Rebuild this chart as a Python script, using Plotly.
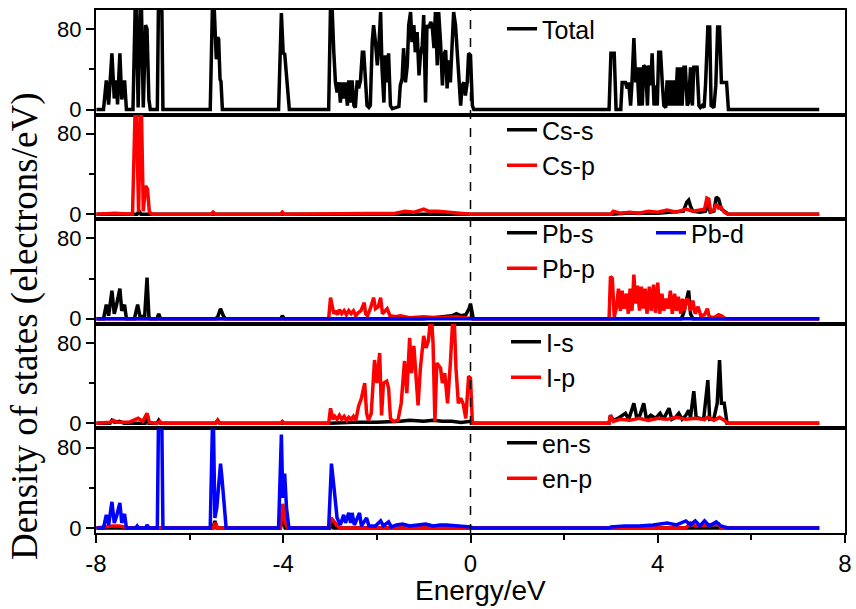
import plotly.graph_objects as go
from plotly.subplots import make_subplots

# ---------------- data: (energy eV, DOS electrons/eV) ----------------
TOTAL = [(-7.99, 0), (-7.84, 0), (-7.78, 29), (-7.73, 5), (-7.66, 56), (-7.61, 11), (-7.56, 29), (-7.54, 5),
         (-7.49, 56), (-7.45, 10), (-7.39, 29), (-7.35, 0), (-7.21, 0), (-7.15, 130), (-7.10, 2), (-7.04, 130),
         (-6.99, 2), (-6.94, 84), (-6.91, 80), (-6.87, 10), (-6.84, 0), (-6.69, 0), (-6.66, 130), (-6.60, 130),
         (-6.57, 0), (-5.56, 0), (-5.50, 130), (-5.45, 55), (-5.43, 50), (-5.40, 72), (-5.38, 70), (-5.35, 30),
         (-5.33, 28), (-5.30, 0), (-4.10, 0), (-4.04, 96), (-4.00, 55), (-3.97, 56), (-3.93, 29), (-3.87, 0),
         (-3.03, 0), (-2.98, 130), (-2.92, 57), (-2.885, 27), (-2.85, 17), (-2.81, 27), (-2.78, 7), (-2.74, 27),
         (-2.71, 11), (-2.67, 27), (-2.63, 4), (-2.60, 29), (-2.56, 7), (-2.53, 29), (-2.49, 4), (-2.46, 2),
         (-2.42, 29), (-2.39, 21), (-2.35, 29), (-2.31, 57), (-2.28, 57), (-2.24, 24), (-2.21, 4), (-2.17, 2),
         (-2.14, 4), (-2.10, 67), (-2.07, 84), (-2.03, 67), (-1.99, 44), (-1.96, 61), (-1.92, 97), (-1.89, 41),
         (-1.85, 7), (-1.82, 54), (-1.78, 27), (-1.75, 56), (-1.71, 4), (-1.67, 1), (-1.60, 2), (-1.53, 3),
         (-1.50, 24), (-1.46, 31), (-1.43, 61), (-1.39, 27), (-1.35, 44), (-1.32, 84), (-1.28, 97), (-1.25, 67),
         (-1.21, 84), (-1.18, 57), (-1.14, 77), (-1.10, 34), (-1.07, 54), (-1.03, 64), (-1.00, 94), (-0.96, 7),
         (-0.93, 84), (-0.89, 81), (-0.85, 87), (-0.82, 84), (-0.78, 61), (-0.75, 97), (-0.71, 44), (-0.68, 97),
         (-0.64, 67), (-0.60, 24), (-0.57, 54), (-0.53, 59), (-0.50, 21), (-0.46, 49), (-0.43, 27), (-0.39, 61),
         (-0.36, 97), (-0.32, 84), (-0.28, 54), (-0.25, 24), (-0.21, 4), (-0.18, 24), (-0.14, 27), (-0.11, 14),
         (-0.07, 27), (-0.04, 56), (0.00, 54), (0.04, 4), (0.07, 0),
         (2.96, 0), (3.00, 56), (3.07, 56), (3.11, 0), (3.21, 0), (3.24, 27), (3.31, 27), (3.35, 21), (3.38, 27),
         (3.42, 4), (3.45, 27), (3.49, 71), (3.53, 27), (3.56, 42), (3.60, 4), (3.63, 42), (3.67, 4), (3.70, 44),
         (3.74, 42), (3.78, 4), (3.81, 44), (3.85, 24), (3.88, 56), (3.92, 4), (3.95, 24), (3.99, 4), (4.02, 57),
         (4.06, 57), (4.10, 24), (4.13, 4), (4.17, 2), (4.20, 29), (4.24, 4), (4.27, 29), (4.31, 4), (4.34, 29),
         (4.38, 4), (4.42, 42), (4.45, 4), (4.49, 42), (4.52, 4), (4.56, 42), (4.59, 42), (4.63, 4), (4.66, 7),
         (4.70, 42), (4.74, 4), (4.77, 42), (4.81, 42), (4.84, 42), (4.88, 4), (4.91, 2), (4.95, 4), (4.99, 2),
         (5.02, 24), (5.07, 82), (5.11, 82), (5.14, 4), (5.20, 2), (5.24, 24), (5.28, 82), (5.32, 82), (5.36, 27),
         (5.41, 27), (5.47, 27), (5.51, 0), (7.45, 0)]

CS_S = [(-7.99, 0), (-7.12, 0), (-7.08, 3), (-7.04, 0), (3.00, 0), (3.30, 1), (4.00, 1), (4.30, 2), (4.55, 3),
        (4.62, 12), (4.66, 14), (4.70, 8), (4.75, 3), (4.90, 2), (5.02, 3), (5.07, 10), (5.12, 2), (5.20, 3),
        (5.25, 17), (5.30, 15), (5.36, 5), (5.45, 2), (5.50, 0), (7.45, 0)]
CS_P = [(-7.99, 0), (-7.60, 1), (-7.22, 0), (-7.15, 130), (-7.09, 2), (-7.04, 130), (-6.99, 3), (-6.94, 28),
        (-6.90, 25), (-6.86, 2), (-6.80, 0), (-5.54, 0), (-5.50, 2), (-5.45, 0), (-4.06, 0), (-4.02, 2),
        (-3.98, 0), (-1.60, 1), (-1.40, 3), (-1.20, 2), (-1.00, 5), (-0.90, 3), (-0.70, 3), (-0.50, 2),
        (-0.20, 1), (0.00, 0), (3.00, 0), (3.05, 3), (3.20, 1), (3.40, 2), (3.60, 1), (3.80, 3), (4.00, 2),
        (4.20, 4), (4.40, 2), (4.60, 5), (4.75, 3), (4.90, 4), (5.00, 5), (5.05, 16), (5.09, 15), (5.13, 3),
        (5.20, 4), (5.25, 10), (5.30, 6), (5.35, 7), (5.42, 2), (5.50, 0), (7.45, 0)]

PB_S = [(-7.99, 0), (-7.84, 0), (-7.78, 14), (-7.73, 3), (-7.66, 28), (-7.61, 5), (-7.56, 14), (-7.49, 30),
        (-7.45, 8), (-7.39, 14), (-7.35, 0), (-7.18, 0), (-7.11, 14), (-7.06, 2), (-6.96, 3), (-6.91, 41),
        (-6.87, 2), (-6.84, 0), (-6.70, 0), (-6.66, 5), (-6.62, 0), (-5.44, 0), (-5.40, 2), (-5.34, 10),
        (-5.28, 3), (-5.24, 0), (-4.05, 0), (-4.02, 3), (-3.98, 0), (-1.00, 0), (-0.80, 1), (-0.60, 2),
        (-0.40, 3), (-0.30, 5), (-0.20, 3), (-0.10, 4), (-0.03, 10), (0.00, 15), (0.03, 5), (0.06, 0),
        (4.50, 0), (4.55, 5), (4.62, 20), (4.66, 28), (4.70, 5), (4.75, 0), (7.45, 0)]
PB_P = [(-7.99, 0), (-3.03, 0), (-2.99, 21), (-2.95, 12), (-2.92, 5), (-2.88, 8), (-2.84, 4), (-2.80, 9),
        (-2.75, 5), (-2.70, 8), (-2.65, 4), (-2.60, 8), (-2.55, 5), (-2.50, 8), (-2.45, 3), (-2.40, 6),
        (-2.34, 8), (-2.27, 16), (-2.24, 5), (-2.20, 3), (-2.14, 10), (-2.07, 21), (-2.03, 10), (-1.97, 12),
        (-1.92, 21), (-1.88, 5), (-1.83, 8), (-1.78, 10), (-1.72, 3), (-1.60, 2), (-1.50, 3), (-1.30, 1),
        (-1.00, 2), (-0.70, 1), (-0.30, 2), (0.00, 1), (0.05, 0), (2.96, 0), (2.99, 42), (3.03, 40),
        (3.07, 2), (3.12, 12), (3.16, 30), (3.20, 8), (3.24, 28), (3.28, 10), (3.33, 25), (3.37, 5),
        (3.41, 30), (3.45, 8), (3.49, 44), (3.53, 15), (3.57, 33), (3.61, 8), (3.65, 32), (3.69, 10),
        (3.73, 30), (3.77, 5), (3.82, 32), (3.86, 8), (3.91, 34), (3.95, 6), (4.00, 36), (4.04, 5),
        (4.09, 25), (4.13, 8), (4.18, 20), (4.22, 10), (4.27, 28), (4.31, 5), (4.36, 25), (4.40, 8),
        (4.44, 22), (4.49, 5), (4.53, 20), (4.57, 8), (4.62, 20), (4.66, 18), (4.70, 8), (4.75, 18),
        (4.80, 5), (4.86, 12), (4.92, 3), (5.00, 4), (5.06, 10), (5.10, 2), (5.20, 1), (5.30, 4),
        (5.36, 3), (5.45, 0), (7.45, 0)]
PB_D = [(-7.99, 0), (7.45, 0)]

I_S = [(-7.99, 0), (-7.70, 0), (-7.66, 3), (-7.60, 1), (-7.50, 2), (-7.40, 0), (-6.95, 0), (-6.91, 9),
       (-6.87, 0), (-6.70, 0), (-6.66, 3), (-6.62, 0), (-5.45, 0), (-5.40, 3), (-5.36, 0), (-3.00, 0),
       (-2.50, 1), (-2.00, 1), (-1.50, 2), (-1.30, 3), (-1.00, 2), (-0.80, 3), (-0.60, 2), (-0.40, 2),
       (-0.20, 1), (0.00, 2), (0.05, 0), (2.96, 0), (2.99, 8), (3.05, 3), (3.15, 5), (3.31, 10), (3.38, 4),
       (3.49, 20), (3.55, 6), (3.62, 8), (3.70, 20), (3.76, 4), (3.85, 8), (3.95, 5), (4.05, 10), (4.12, 4),
       (4.24, 15), (4.30, 4), (4.38, 6), (4.45, 10), (4.52, 4), (4.60, 8), (4.66, 13), (4.70, 6), (4.77, 32),
       (4.82, 6), (4.90, 5), (4.98, 4), (5.07, 43), (5.11, 4), (5.20, 5), (5.27, 20), (5.32, 63), (5.36, 20),
       (5.42, 20), (5.48, 0), (7.45, 0)]
I_P = [(-7.99, 0), (-7.70, 1), (-7.63, 3), (-7.55, 1), (-7.30, 1), (-7.10, 5), (-7.00, 2), (-6.91, 10),
       (-6.86, 1), (-6.70, 0), (-6.64, 2), (-6.60, 0), (-5.44, 0), (-5.40, 3), (-5.35, 0), (-4.06, 0),
       (-4.02, 2), (-3.98, 0), (-3.03, 0), (-2.99, 15), (-2.94, 4), (-2.90, 7), (-2.85, 4), (-2.80, 8),
       (-2.75, 4), (-2.70, 7), (-2.65, 3), (-2.60, 6), (-2.55, 4), (-2.50, 7), (-2.45, 3), (-2.39, 17),
       (-2.33, 25), (-2.26, 40), (-2.22, 10), (-2.18, 3), (-2.12, 10), (-2.05, 63), (-2.00, 40), (-1.94, 70),
       (-1.90, 8), (-1.86, 40), (-1.79, 42), (-1.75, 35), (-1.71, 5), (-1.65, 2), (-1.55, 3), (-1.48, 20),
       (-1.41, 62), (-1.36, 30), (-1.30, 85), (-1.26, 50), (-1.21, 77), (-1.16, 43), (-1.12, 18), (-1.07, 55),
       (-1.00, 87), (-0.95, 75), (-0.90, 82), (-0.84, 110), (-0.80, 80), (-0.76, 2), (-0.72, 60), (-0.64, 55),
       (-0.60, 40), (-0.55, 50), (-0.49, 20), (-0.43, 60), (-0.36, 120), (-0.31, 55), (-0.26, 20), (-0.21, 25),
       (-0.16, 20), (-0.10, 5), (-0.04, 47), (0.00, 45), (0.04, 0), (2.96, 0), (2.99, 8), (3.05, 2), (3.20, 4),
       (3.40, 3), (3.60, 5), (3.80, 3), (4.00, 5), (4.20, 4), (4.40, 6), (4.60, 4), (4.80, 5), (5.00, 4),
       (5.07, 6), (5.20, 3), (5.32, 6), (5.45, 2), (5.50, 0), (7.45, 0)]

EN_S = [(-7.99, 0), (-5.50, 0), (-5.46, 7), (-5.42, 0), (-4.06, 0), (-4.01, 12), (-3.96, 0), (-3.00, 0),
        (-2.96, 7), (-2.92, 0), (7.45, 0)]
EN_P = [(-7.99, 0), (-7.66, 2), (-7.50, 2), (-7.30, 0), (-5.50, 0), (-5.45, 5), (-5.40, 0), (-4.06, 0),
        (-4.01, 24), (-3.96, 5), (-3.90, 0), (-3.03, 0), (-2.98, 10), (-2.90, 5), (-2.80, 0), (4.60, 0),
        (4.70, 5), (4.80, 2), (5.30, 4), (5.35, 0), (7.45, 0)]
EN_X = [(-7.99, 0), (-7.84, 0), (-7.78, 13), (-7.73, 3), (-7.66, 26), (-7.61, 5), (-7.56, 12), (-7.49, 25),
        (-7.45, 5), (-7.39, 14), (-7.35, 0), (-7.15, 0), (-7.12, 2), (-7.09, 0), (-6.94, 0), (-6.91, 3),
        (-6.87, 0), (-6.69, 0), (-6.66, 130), (-6.60, 130), (-6.57, 0), (-5.56, 0), (-5.50, 130), (-5.46, 10),
        (-5.42, 20), (-5.38, 45), (-5.34, 64), (-5.31, 50), (-5.26, 25), (-5.22, 0), (-4.10, 0), (-4.04, 93),
        (-4.01, 30), (-3.97, 54), (-3.93, 20), (-3.88, 0), (-3.03, 0), (-2.97, 64), (-2.92, 42), (-2.89, 30),
        (-2.85, 10), (-2.78, 3), (-2.71, 13), (-2.67, 5), (-2.60, 15), (-2.56, 5), (-2.53, 15), (-2.48, 3),
        (-2.37, 15), (-2.33, 2), (-2.22, 10), (-2.17, 2), (-2.03, 2), (-1.92, 7), (-1.86, 2), (-1.75, 6),
        (-1.69, 1), (-1.58, 3), (-1.45, 4), (-1.30, 2), (-1.15, 3), (-0.96, 4), (-0.80, 2), (-0.65, 3),
        (-0.51, 3), (-0.30, 2), (-0.15, 2), (0.00, 1), (0.05, 0), (2.96, 0), (3.00, 1), (3.30, 2), (3.60, 2),
        (3.90, 3), (4.20, 5), (4.40, 3), (4.60, 7), (4.70, 3), (4.80, 7), (4.90, 2), (5.00, 7), (5.10, 2),
        (5.25, 6), (5.35, 2), (5.50, 0), (7.45, 0)]

X_TICKS = [-8, -4, 0, 4, 8]
X_TICK_TEXT = ["-8", "-4", "0", "4", "8"]
X_MINOR = [-6, -2, 2, 6]
Y_TICKS = [0, 80]
Y_MINOR = [40]

BLACK, RED, BLUE = "#000000", "#ff0000", "#0000ff"
SANS = "Arial, Liberation Sans, sans-serif"
SERIF = "Times New Roman, Liberation Serif, serif"

# (row, pairs, name, colour, legend id, rank, show in legend)
SERIES = [
    (1, TOTAL, "Total", BLACK, "legend", 1, True),
    (2, CS_S, "Cs-s", BLACK, "legend2", 1, True),
    (2, CS_P, "Cs-p", RED, "legend2", 2, True),
    (3, PB_S, "Pb-s", BLACK, "legend3", 1, True),
    (3, PB_P, "Pb-p", RED, "legend3", 2, True),
    (3, PB_D, "Pb-d", BLUE, "legend6", 1, True),
    (4, I_S, "I-s", BLACK, "legend4", 1, True),
    (4, I_P, "I-p", RED, "legend4", 2, True),
    (5, EN_S, "en-s", BLACK, "legend5", 1, True),
    (5, EN_P, "en-p", RED, "legend5", 2, True),
    (5, EN_X, "en", BLUE, "legend5", 3, False),
]

fig = make_subplots(rows=5, cols=1, shared_xaxes=True, vertical_spacing=0)

for row, pairs, name, color, leg, rank, show in SERIES:
    xs = [p[0] for p in pairs]
    ys = [p[1] for p in pairs]
    fig.add_trace(go.Scatter(x=xs, y=ys, mode="lines", name=name,
                             line=dict(color=color, width=3.5),
                             legend=leg, legendrank=rank, showlegend=show),
                  row=row, col=1)

for r in range(1, 6):
    bottom = (r == 5)
    fig.update_xaxes(range=[-8, 8], automargin=False, showline=True, mirror=True, linecolor="black",
                     linewidth=2, showgrid=False, zeroline=False,
                     tickvals=X_TICKS, ticktext=X_TICK_TEXT,
                     ticks="outside" if bottom else "", ticklen=8, tickwidth=1.5,
                     tickcolor="black", showticklabels=bottom,
                     tickfont=dict(family=SANS, size=24, color="black"),
                     minor=dict(tickvals=X_MINOR, ticks="outside" if bottom else "", ticklen=5,
                                tickwidth=1.5, tickcolor="black", showgrid=False),
                     row=r, col=1)
    fig.update_yaxes(range=[-5, 99], automargin=False, showline=True, mirror=True, linecolor="black",
                     linewidth=2, showgrid=False, zeroline=False,
                     tickvals=Y_TICKS, ticks="outside", ticklen=8, tickwidth=1.5, tickcolor="black",
                     tickfont=dict(family=SANS, size=22, color="black"),
                     minor=dict(tickvals=Y_MINOR, ticks="outside", ticklen=5, tickwidth=1.5,
                                tickcolor="black", showgrid=False),
                     row=r, col=1)

W, H = 856, 609
ML, MR, MT, MB = 96, 11, 10, 76
PW, PH = W - ML - MR, H - MT - MB


def px_x(px):
    return (px - ML) / PW


def px_y(py):
    return (H - MB - py) / PH


legend_common = dict(bgcolor="rgba(0,0,0,0)", borderwidth=0, xanchor="left", yanchor="top",
                     font=dict(family=SANS, size=25, color="black"), tracegroupgap=0,
                     orientation="v")

fig.update_layout(
    width=W, height=H,
    margin=dict(l=ML, r=MR, t=MT, b=MB, autoexpand=False),
    paper_bgcolor="white", plot_bgcolor="white",
    legend=dict(x=px_x(502), y=px_y(6), **legend_common),
    legend2=dict(x=px_x(502), y=px_y(107), **legend_common),
    legend3=dict(x=px_x(502), y=px_y(210), **legend_common),
    legend4=dict(x=px_x(506), y=px_y(319), **legend_common),
    legend5=dict(x=px_x(502), y=px_y(420), **legend_common),
    legend6=dict(x=px_x(651), y=px_y(210), **legend_common),
    shapes=[dict(type="line", xref="x5", yref="paper", x0=0, x1=0, y0=0, y1=1,
                 line=dict(color="black", width=1.5, dash="dash"))],
    annotations=[
        dict(text="Energy/eV", xref="paper", yref="paper", x=px_x(480), y=px_y(590),
             xanchor="center", yanchor="middle", showarrow=False,
             font=dict(family=SANS, size=28, color="black")),
        dict(text="Density of states (electrons/eV)", xref="paper", yref="paper",
             x=px_x(25), y=px_y(326), xanchor="center", yanchor="middle", textangle=-90,
             showarrow=False, font=dict(family=SERIF, size=37, color="black")),
    ],
)

fig.write_html("out.html", config={"displayModeBar": False},
               post_script="document.body.style.margin='0px';")
